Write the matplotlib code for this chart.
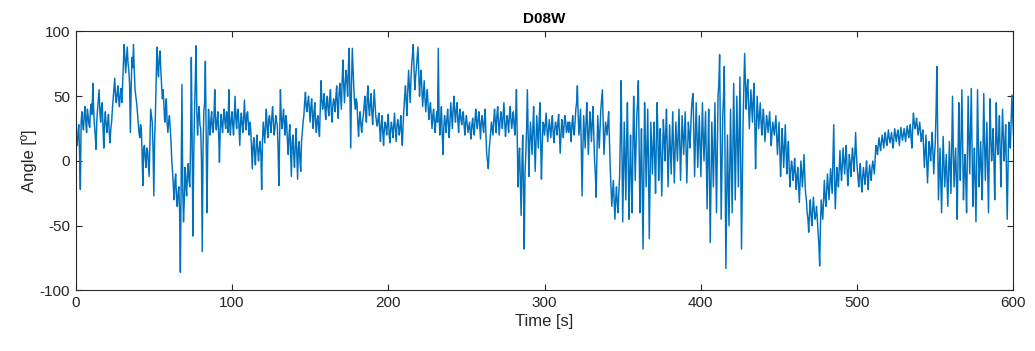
import numpy as np
import matplotlib
matplotlib.use("Agg")
import matplotlib.pyplot as plt

# Angle signal sampled on whole seconds (t = 0 ... 600 s)
angle_0_99 = [
    20, 12, 28, -22, 38, 24, 42, 22, 35, 26,
    44, 60, 28, 9, 40, 55, 30, 45, 10, 38,
    22, 36, 14, 30, 48, 64, 45, 58, 42, 56,
    58, 90, 68, 88, 70, 22, 80, 90, 55, 45,
    30, 18, 25, -19, 12, -5, 8, -12, 40, 30,
    -27, 35, 88, 65, 85, 58, 55, 30, 48, 22,
    35, 15, -8, -30, -10, -35, -20, -86, 59, -47,
    -5, -27, -2, -20, 80, -58, 35, 89, 20, 42,
    25, -70, 38, 77, -40, 40, 20, 38, 22, 55,
    24, 38, -1, 36, 22, 40, 25, 35, 55, 20,
]
angle_100_199 = [
    38, 20, 50, 25, 40, 12, 37, 22, 47, 24,
    38, 20, 24, -6, 18, -3, 20, 0, 15, -22,
    30, 14, 40, 18, 35, 22, 42, 20, 35, 28,
    -19, 55, 25, 40, 20, 30, 5, 28, -12, 20,
    -5, 25, -14, 15, -8, 22, 35, 53, 38, 50,
    30, 48, 25, 45, 22, 35, 19, 62, 40, 52,
    32, 50, 35, 55, 30, 48, 38, 58, 33, 60,
    40, 78, 45, 70, 50, 87, 10, 87, 55, 40,
    45, 19, 38, 22, 35, 50, 30, 58, 35, 52,
    28, 55, 35, 27, 37, 15, 35, 12, 30, 20,
]
angle_200_299 = [
    36, 14, 30, 18, 37, 15, 32, 20, 35, 12,
    40, 58, 35, 70, 45, 75, 90, 55, 72, 88,
    50, 70, 42, 62, 38, 55, 32, 45, 25, 40,
    22, 38, 87, 20, 42, 5, 35, 22, 40, 18,
    45, 25, 50, 30, 45, 22, 40, 28, 38, 20,
    35, 22, 30, 17, 33, 20, 40, 25, 38, 17,
    35, 22, 40, 5, -6, 15, 30, 20, 40, 22,
    42, 20, 38, 25, 45, 19, 35, 22, 42, 25,
    38, 20, 55, -20, 10, -42, 20, -68, 5, 55,
    -12, 30, 5, 42, -8, 35, 10, 45, -14, 30,
]
angle_300_399 = [
    20, 37, 15, 32, 18, 35, 14, 30, 20, 36,
    6, 32, 18, 35, 22, 30, 30, 15, 35, 20,
    40, 58, 20, 40, -27, 35, 10, 45, 5, 38,
    15, 42, 0, -28, 35, 10, 40, 55, 5, 30,
    20, 38, -5, -35, -15, -45, -20, -40, -12, 62,
    -47, 30, -30, 45, -45, 20, -40, 50, -15, 35,
    62, -40, 25, -68, 45, -20, 40, -60, 30, -10,
    30, -25, 45, -15, 25, -27, 32, 0, 40, -20,
    28, -10, 38, -17, 30, 0, 40, -15, 35, 5,
    38, -17, 30, 10, 40, 52, -12, 45, -5, 35,
]
angle_400_499 = [
    -12, 45, 0, 38, -37, 40, -63, 30, -20, 45,
    -40, 50, 82, -45, 35, 73, -83, 20, -50, 40,
    -40, 60, -30, 50, -20, 65, -68, 30, 83, 40,
    63, 25, 55, 30, 60, -6, 50, 25, 45, 20,
    40, 15, 35, 22, 38, 12, 30, 20, 35, 5,
    30, -12, 25, -5, 28, -10, 15, -20, 0, -15,
    2, -22, -5, -32, 0, -20, 5, -25, -40, -55,
    -30, -50, -28, -45, -35, -55, -81, -30, -45, -15,
    -35, -10, -30, -6, -25, 28, -37, -5, -20, 8,
    -15, 10, -10, 12, -19, 5, -12, 10, -8, 22,
]
angle_500_600 = [
    -5, -20, -2, -24, -5, -18, 0, -22, -3, -15,
    0, -10, 12, 5, 18, 8, 20, 10, 22, 12,
    24, 14, 22, 10, 25, 15, 24, 12, 26, 16,
    25, 15, 27, 18, 28, 10, 37, 25, 33, 20,
    30, 15, 24, -5, 20, -17, 15, 0, 22, -10,
    15, 73, -30, 10, -40, 19, -20, 5, -35, 15,
    -25, 50, -20, 10, -45, 45, -15, 55, -30, 5,
    -40, 50, -10, 56, -35, 10, -47, 55, -20, 15,
    -30, 52, -15, 30, -40, 48, 0, 25, -30, 45,
    5, 35, -20, 40, 0, 28, -45, 30, 10, 51,
    20,
]

# Angle samples on the half seconds (t = 0.5 ... 599.5 s)
half_0_99 = [
    15, 22, 5, 30, 28, 36, 30, 40, 28, 40,
    36, 40, 20, 30, 48, 38, 42, 25, 30, 28,
    30, 22, 25, 40, 55, 50, 52, 48, 52, 45,
    75, 80, 78, 76, 60, 55, 72, 70, 50, 38,
    22, 28, 5, 10, 2, 10, -2, 15, 35, 10,
    15, 60, 72, 80, 70, 48, 42, 40, 30, 30,
    25, 0, -20, -15, -28, -25, -40, -10, -20, -30,
    -18, -10, -15, 10, 20, 0, 60, 40, 35, 28,
    0, 10, 45, 20, 10, 28, 32, 25, 35, 30,
    32, 20, 25, 28, 34, 30, 38, 22, 30, 32,
]
half_100_199 = [
    28, 35, 32, 38, 25, 30, 28, 35, 30, 36,
    28, 30, 10, 12, 5, 12, 8, 10, 5, 15,
    22, 30, 25, 32, 28, 34, 30, 25, 30, 10,
    20, 35, 32, 28, 35, 15, 20, 8, 15, 5,
    12, 5, 10, 0, 15, 30, 45, 42, 45, 40,
    42, 35, 38, 30, 32, 25, 40, 48, 45, 40,
    45, 40, 48, 40, 42, 45, 50, 42, 52, 50,
    62, 58, 60, 62, 72, 50, 60, 70, 45, 48,
    30, 32, 28, 30, 42, 38, 48, 42, 45, 38,
    42, 45, 30, 33, 25, 28, 22, 25, 26, 30,
]
half_200_299 = [
    22, 24, 25, 28, 25, 26, 28, 25, 22, 28,
    50, 45, 55, 58, 62, 82, 70, 65, 80, 68,
    62, 55, 52, 48, 48, 42, 40, 35, 35, 30,
    32, 30, 35, 32, 22, 25, 30, 32, 28, 32,
    35, 40, 38, 40, 32, 35, 32, 35, 28, 30,
    28, 26, 22, 28, 25, 32, 30, 33, 28, 30,
    28, 32, 20, 0, 8, 22, 25, 32, 30, 35,
    30, 30, 32, 35, 30, 28, 30, 35, 32, 32,
    28, 35, 20, 0, -15, -5, -20, -10, 25, 20,
    15, 18, 25, 18, 15, 22, 30, 15, 10, 28,
]
half_300_399 = [
    28, 25, 24, 25, 28, 22, 24, 26, 30, 22,
    20, 26, 28, 30, 25, 22, 25, 28, 25, 30,
    45, 35, 30, 10, 8, 22, 30, 25, 22, 28,
    30, 20, -10, 5, 22, 25, 48, 30, 18, 25,
    30, 15, -20, -25, -30, -30, -32, -25, 20, 10,
    -10, 0, 15, 0, -10, -15, 10, 20, 10, 45,
    10, -5, -20, -10, 15, 12, -5, -15, 10, 12,
    0, 15, 20, 8, 0, 5, 18, 22, 10, 5,
    10, 15, 12, 8, 15, 20, 12, 10, 20, 22,
    10, 8, 22, 25, 48, 20, 15, 20, 15, 10,
]
half_400_499 = [
    15, 20, 20, 0, 5, -10, -15, 5, 12, 0,
    5, 60, 20, -5, 50, -5, -30, -15, -5, 0,
    10, 15, 10, 15, 20, 0, -20, 55, 60, 55,
    45, 40, 42, 48, 30, 25, 38, 35, 30, 32,
    28, 25, 30, 30, 25, 22, 25, 28, 20, 18,
    10, 5, 12, 10, 8, 5, -5, -8, -5, -8,
    -10, -12, -18, -15, -10, -8, -12, -30, -45, -40,
    -42, -38, -38, -42, -45, -65, -50, -38, -30, -28,
    -22, -20, -18, -15, 0, -10, -20, -12, -5, -5,
    -2, 0, 2, -5, -8, -2, 0, 2, 5, 5,
]
half_500_599 = [
    -12, -10, -15, -12, -12, -8, -12, -10, -10, -5,
    -5, 2, 10, 12, 12, 15, 15, 18, 15, 18,
    18, 18, 15, 18, 20, 20, 18, 20, 20, 20,
    20, 22, 22, 24, 18, 25, 30, 28, 26, 25,
    22, 20, 10, 8, 0, 0, 8, 12, 5, 5,
    40, 20, -10, -15, -10, 0, -8, -15, -10, -5,
    10, 10, -5, -15, 0, 10, 20, 10, -10, -15,
    5, 20, 25, 10, -10, -20, 0, 15, -5, -5,
    10, 15, 8, -5, 5, 20, 10, 0, 10, 15,
    18, 5, 15, 20, 12, -10, -5, 18, 30, 35,
]

whole = np.array(angle_0_99 + angle_100_199 + angle_200_299
                 + angle_300_399 + angle_400_499 + angle_500_600, dtype=float)
half = np.array(half_0_99 + half_100_199 + half_200_299
                + half_300_399 + half_400_499 + half_500_599, dtype=float)

# Interleave whole- and half-second samples into one series
angle = np.empty(whole.size + half.size)
angle[0::2] = whole
angle[1::2] = half
time_s = np.arange(angle.size) * 0.5

x_ticks = [0, 100, 200, 300, 400, 500, 600]
y_ticks = [-100, -50, 0, 50, 100]

plt.rcParams["font.family"] = ["Liberation Sans", "DejaVu Sans"]
plt.rcParams["axes.unicode_minus"] = False

fig = plt.figure(figsize=(10.35, 3.51), dpi=100)
ax = fig.add_axes([0.0731, 0.1724, 0.9061, 0.7379])

ax.plot(time_s, angle, color="#0072BD", lw=1.05)

ax.set_xlim(0, 600)
ax.set_ylim(-100, 100)
ax.set_xticks(x_ticks)
ax.set_yticks(y_ticks)

axis_color = "#262626"
for side in ax.spines.values():
    side.set_color(axis_color)
    side.set_linewidth(0.8)
ax.tick_params(direction="in", length=4, width=0.8, colors=axis_color,
               labelsize=11, top=True, right=True, pad=4)

ax.set_title("D08W", fontsize=11, fontweight="bold", color="black", pad=6)
ax.set_xlabel("Time [s]", fontsize=12, color=axis_color, labelpad=3)
ax.set_ylabel("Angle [º]", fontsize=12, color=axis_color, labelpad=2)

fig.savefig("out.png", dpi=100)
